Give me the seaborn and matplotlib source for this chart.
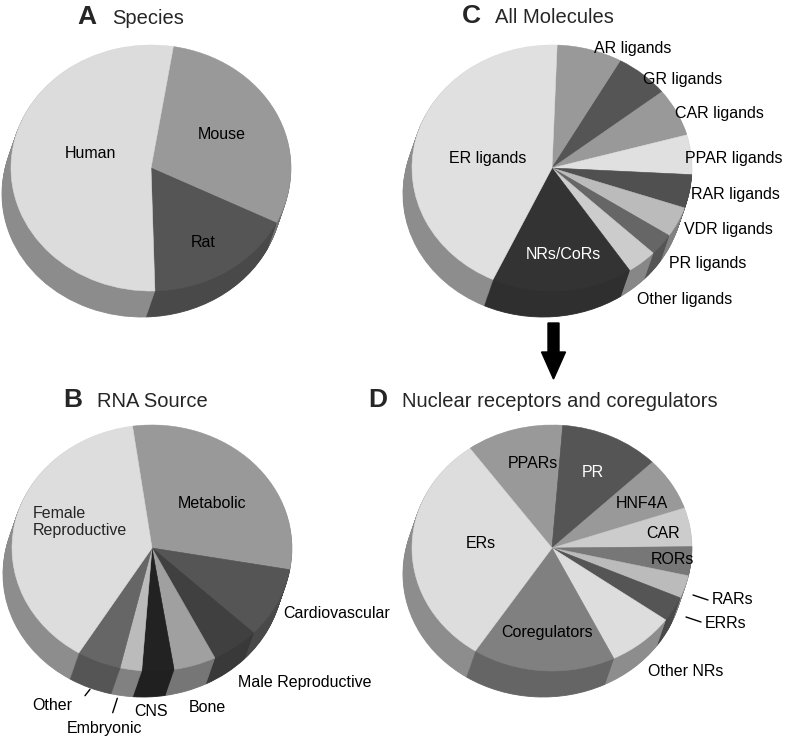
import matplotlib
matplotlib.use('Agg')
import matplotlib.pyplot as plt
import seaborn as sns
from matplotlib.colors import to_rgb

sns.set_theme(style="white")
plt.rcParams['font.family'] = ['Liberation Sans', 'DejaVu Sans']

# --- data (percent of each pie, clockwise from the first slice) ---
species = ['Mouse', 'Rat', 'Human']
species_pct = [29.8, 17.2, 53.0]
species_col = ['#999999', '#555555', '#dcdcdc']

rna_src = ['Metabolic', 'Cardiovascular', 'Male Reproductive', 'Bone', 'CNS',
           'Embryonic', 'Other', 'Female\nReproductive']
rna_pct = [30.1, 9.3, 5.5, 4.9, 3.7, 2.5, 5.1, 39.1]
rna_col = ['#999999', '#555555', '#404040', '#a0a0a0', '#222222',
           '#bbbbbb', '#666666', '#dddddd']

molecules = ['AR ligands', 'GR ligands', 'CAR ligands', 'PPAR ligands', 'RAR ligands',
             'VDR ligands', 'PR ligands', 'Other ligands', 'NRs/CoRs', 'ER ligands']
mol_pct = [7.6, 6.2, 6.3, 5.2, 4.4, 4.0, 2.9, 3.5, 16.3, 43.7]
mol_col = ['#999999', '#555555', '#999999', '#e0e0e0', '#505050',
           '#bbbbbb', '#666666', '#cccccc', '#333333', '#e0e0e0']

nr_names = ['PPARs', 'PR', 'HNF4A', 'CAR', 'RORs', 'RARs', 'ERRs',
            'Other NRs', 'Coregulators', 'ERs']
nr_pct = [11.2, 11.5, 7.0, 5.1, 3.8, 3.0, 3.3, 7.8, 16.5, 30.8]
nr_col = ['#999999', '#555555', '#999999', '#cccccc', '#777777',
          '#bbbbbb', '#555555', '#dddddd', '#808080', '#dddddd']

W, H = 787, 737
RX, RY = 140, 123       # top face radii (px)
DX, DY = -9, -26        # depth of the pie side (px)
fig = plt.figure(figsize=(W / 100, H / 100), dpi=100)


def side_of(c):
    r, g, b = to_rgb(c)
    return tuple(v * (1 - 0.42 * v) for v in (r, g, b))


def fill_edges(wedges, lw):
    for w in wedges:
        w.set_edgecolor(w.get_facecolor())
        w.set_linewidth(lw)


def pie3d(cx, cy, vals, cols, start):
    half = 165
    ax = fig.add_axes([(cx - half) / W, 1 - (cy + half) / H, 2 * half / W, 2 * half / H])
    sides = [side_of(c) for c in cols]
    steps = 28
    for i in range(steps, 0, -1):
        t = i / steps
        wedges, _ = ax.pie(vals, colors=sides, startangle=start, counterclock=False,
                           center=(DX / RX * t, DY / RY * t))
        fill_edges(wedges, 0.6)
    wedges, _ = ax.pie(vals, colors=cols, startangle=start, counterclock=False)
    fill_edges(wedges, 0.4)
    ax.set_aspect('auto')
    ax.set_xlim(-half / RX, half / RX)
    ax.set_ylim(-half / RY, half / RY)
    ax.axis('off')
    return ax


pie3d(151, 168, species_pct, species_col, 80.8)
pie3d(152, 548, rna_pct, rna_col, 98.0)
pie3d(552, 168, mol_pct, mol_col, 87.9)
pie3d(552, 548, nr_pct, nr_col, 125.9)

# overlay for titles, labels and the arrow (pixel coordinates)
ov = fig.add_axes([0, 0, 1, 1])
ov.set_xlim(0, W)
ov.set_ylim(H, 0)
ov.axis('off')

titles = [('A', 'Species', 77, 112, 24), ('C', 'All Molecules', 462, 495, 23),
          ('B', 'RNA Source', 63, 97, 407), ('D', 'Nuclear receptors and coregulators', 368, 402, 407)]
for letter, name, xl, xt, yb in titles:
    ov.text(xl, yb, letter, fontsize=19, fontweight='bold', va='baseline', ha='left')
    ov.text(xt, yb, name, fontsize=14.5, va='baseline', ha='left')

lab_pos = {
    'Human': (90, 153), 'Mouse': (222, 134), 'Rat': (203, 242),
    'ER ligands': (488, 158), 'AR ligands': (633, 48), 'GR ligands': (683, 79),
    'CAR ligands': (719, 113), 'PPAR ligands': (734, 158), 'RAR ligands': (735, 194),
    'VDR ligands': (728, 229), 'PR ligands': (708, 263), 'Other ligands': (685, 299),
    'NRs/CoRs': (563, 254),
    'Metabolic': (212, 503), 'Cardiovascular': (337, 614), 'Male Reproductive': (305, 682),
    'Bone': (207, 708), 'CNS': (151, 711), 'Other': (52, 705), 'Embryonic': (105, 729),
    'PPARs': (533, 463), 'PR': (593, 472), 'HNF4A': (642, 503), 'CAR': (663, 533),
    'RORs': (672, 560), 'RARs': (733, 600), 'ERRs': (726, 624), 'ERs': (481, 543),
    'Coregulators': (547, 633), 'Other NRs': (686, 672),
}
white = {'NRs/CoRs', 'PR'}
for name, (x, y) in lab_pos.items():
    ov.text(x, y, name, fontsize=11.5, ha='center', va='center',
            color='white' if name in white else 'black')
ov.text(33, 522, 'Female\nReproductive', fontsize=11.5, ha='left', va='center',
        linespacing=1.1)

# leader ticks
for (x0, y0, x1, y1) in [(85, 695.7, 90, 689.3), (112.7, 712.7, 117.3, 698.3),
                         (693, 595, 708, 600), (686, 617, 701, 622)]:
    ov.plot([x0, x1], [y0, y1], color='black', lw=1)

ov.arrow(553.5, 323, 0, 56, width=11, head_width=24, head_length=27,
         length_includes_head=True, color='black')

fig.savefig('out.png', dpi=100)
